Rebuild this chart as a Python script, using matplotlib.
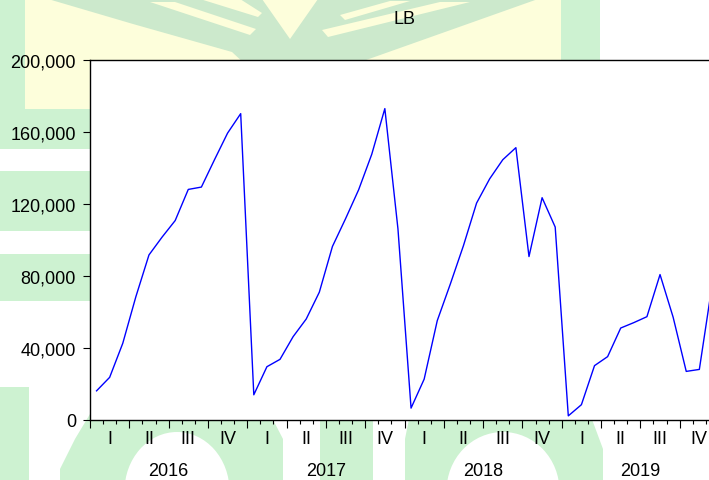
import numpy as np
import matplotlib
matplotlib.use("Agg")
import matplotlib.pyplot as plt
from matplotlib.patches import Rectangle, Polygon, Ellipse
from matplotlib.transforms import blended_transform_factory

plt.rcParams['font.family'] = ['Liberation Sans', 'DejaVu Sans']

# Monthly LB series, Jan 2016 - Dec 2019
lb_values = [
    16200, 23700, 42600, 68500, 91700, 101600, 110800, 128100, 129400, 144600, 159400, 170200,
    14000, 29600, 33700, 46300, 56100, 71000, 96400, 111800, 127900, 147600, 173000, 106200,
    6600, 22700, 55200, 75600, 96900, 120500, 134000, 144600, 151300, 90800, 123500, 107200,
    2300, 8500, 30200, 35200, 51100, 54100, 57400, 80800, 57100, 27000, 28100, 76300,
]
years = ["2016", "2017", "2018", "2019"]
quarters = ["I", "II", "III", "IV"]
y_ticks = [0, 40000, 80000, 120000, 160000, 200000]

W, H = 709, 481
fig = plt.figure(figsize=(W / 100, H / 100), dpi=100)
fig.patch.set_facecolor("white")

# background logo pattern (pixel coordinates)
bg = fig.add_axes([0, 0, 1, 1], zorder=0)
bg.set_xlim(0, W)
bg.set_ylim(H, 0)
bg.axis("off")
G = "#cdf2d1"
G2 = "#cce9cc"
Y = "#fdfedb"
WH = "white"

def rect(x0, y0, x1, y1, c):
    bg.add_patch(Rectangle((x0, y0), x1 - x0, y1 - y0, facecolor=c, lw=0))

def poly(pts, c):
    bg.add_patch(Polygon(pts, closed=True, facecolor=c, lw=0))

rect(0, 0, 92, 150, G)
rect(25, 0, 562, 110, Y)
rect(561, 0, 600, 65, G)
# fan of leaves at the top
poly([(48, 0), (538, 0), (352, 66), (246, 66), (232, 53), (133, 25)], G2)
poly([(150, 3), (175, 3), (256, 30), (250, 36)], Y)
poly([(200, 0), (240, 0), (262, 14), (258, 18)], Y)
poly([(262, 0), (318, 0), (290, 40)], Y)
poly([(322, 31), (440, 3), (470, 3), (328, 38)], Y)
poly([(340, 16), (390, 2), (410, 2), (345, 21)], Y)
# left margin bands
rect(0, 172, 92, 232, G)
rect(0, 255, 92, 302, G)
rect(0, 388, 29, 490, G)
# bottom arcs
poly([(90, 415), (270, 415), (283, 440), (283, 490), (60, 490), (60, 470), (75, 440)], G)
bg.add_patch(Ellipse((177, 492), 105, 118, facecolor=WH, lw=0))
rect(320, 415, 373, 490, G)
poly([(410, 415), (590, 415), (603, 450), (603, 490), (405, 490), (405, 440)], G)
bg.add_patch(Ellipse((503, 492), 113, 118, facecolor=WH, lw=0))

# main chart
left, right, top, bottom = 90, 719, 61, 421
ax = fig.add_axes([left / W, (H - bottom) / H, (right - left) / W, (bottom - top) / H], zorder=1)
ax.set_facecolor("white")

n = len(lb_values)
x = np.arange(n) + 0.5
ax.plot(x, lb_values, color="#0000ff", lw=1.0)

ax.set_xlim(0, 48)
ax.set_ylim(0, 200000)
ax.set_yticks(y_ticks)
ax.set_yticklabels([f"{v:,}" for v in y_ticks])
ax.set_xticks(np.arange(0, 49, 3))
ax.set_xticks(np.arange(0, 49, 1), minor=True)
ax.set_xticklabels([])
ax.tick_params(axis="y", direction="out", length=5, width=0.8, pad=5,
               labelsize=13, colors="black")
ax.tick_params(axis="x", which="major", direction="out", length=5.8, width=0.8)
ax.tick_params(axis="x", which="minor", direction="out", length=2.9, width=0.8)
for s in ax.spines.values():
    s.set_linewidth(1.0)
    s.set_color("black")

tr = blended_transform_factory(ax.transData, ax.transAxes)
for k in range(16):
    ax.text(3 * k + 1.5, -19 / 360, quarters[k % 4], transform=tr,
            ha="center", va="center", fontsize=13)
for k, yr in enumerate(years):
    ax.text(12 * k + 6, -51 / 360, yr, transform=tr,
            ha="center", va="center", fontsize=13)

fig.text((left + right) / 2 / W, 1 - 20 / H, "LB", ha="center", va="center", fontsize=13)

fig.savefig("out.png", dpi=100)
